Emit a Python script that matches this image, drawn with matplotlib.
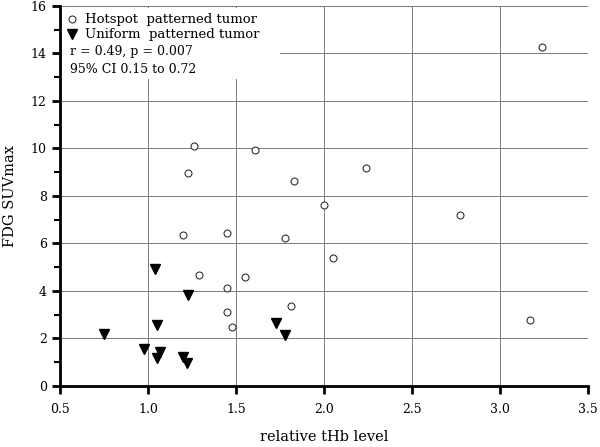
import matplotlib
matplotlib.use("Agg")
import matplotlib.pyplot as plt
from matplotlib.lines import Line2D
from matplotlib.patches import Rectangle
from matplotlib.ticker import MultipleLocator

# ── Data ───────────────────────────────────────────────────────────────────
hotspot_x = [3.24, 2.77, 3.17, 1.26, 1.61, 1.23, 1.83, 2.24, 2.00, 1.20,
             1.45, 1.78, 2.05, 1.29, 1.55, 1.45, 1.45, 1.81, 1.48]
hotspot_y = [14.26, 7.20, 2.78, 10.09, 9.95, 8.97, 8.63, 9.16, 7.61, 6.36,
             6.43, 6.25, 5.38, 4.67, 4.58, 4.13, 3.12, 3.37, 2.48]

uniform_x = [1.04, 1.23, 1.05, 0.75, 1.73, 1.78, 0.98, 1.07, 1.05, 1.20, 1.22]
uniform_y = [4.91, 3.85, 2.57, 2.20, 2.64, 2.15, 1.56, 1.42, 1.19, 1.23, 0.98]

x_ticks = [0.5, 1.0, 1.5, 2.0, 2.5, 3.0, 3.5]
y_ticks = [0, 2, 4, 6, 8, 10, 12, 14, 16]

legend_labels = ["Hotspot  patterned tumor", "Uniform  patterned tumor"]
stats_lines = ["r = 0.49, p = 0.007", "95% CI 0.15 to 0.72"]

# ── Style ──────────────────────────────────────────────────────────────────
plt.rcParams.update({
    "font.family": "DejaVu Serif",
    "font.size": 9,
    "text.color": "black",
})

fig = plt.figure(figsize=(6.0, 4.47), dpi=100)
ax = fig.add_axes([0.1, 0.1365, 0.88, 0.8501])

ax.set_xlim(0.5, 3.5)
ax.set_ylim(0, 16)
ax.set_xticks(x_ticks)
ax.set_xticklabels([f"{t:.1f}" for t in x_ticks])
ax.set_yticks(y_ticks)
ax.yaxis.set_minor_locator(MultipleLocator(1))

ax.grid(True, which="major", color="#7a7a7a", linewidth=0.7)
ax.set_axisbelow(True)

for side in ("top", "right"):
    ax.spines[side].set_visible(False)
for side in ("left", "bottom"):
    ax.spines[side].set_linewidth(2)

ax.tick_params(which="major", direction="out", length=6, width=2, labelsize=9)
ax.tick_params(which="minor", direction="out", length=4, width=1.5)
ax.tick_params(axis="x", pad=6)

# white block behind the legend text (hides the grid there)
ax.add_patch(Rectangle((0.004, 0.808), 0.413, 0.187, transform=ax.transAxes,
                       facecolor="white", edgecolor="none", zorder=2))

ax.plot(hotspot_x, hotspot_y, linestyle="none", marker="o", markersize=5,
        markerfacecolor="white", markeredgecolor="#333", markeredgewidth=0.8,
        zorder=3)
ax.plot(uniform_x, uniform_y, linestyle="none", marker="v", markersize=7.5,
        color="black", zorder=3)

handles = [
    Line2D([], [], linestyle="none", marker="o", markersize=5,
           markerfacecolor="white", markeredgecolor="#333", markeredgewidth=0.8),
    Line2D([], [], linestyle="none", marker="v", markersize=7.5, color="black"),
]
leg = ax.legend(handles, legend_labels, loc="upper left",
                bbox_to_anchor=(-0.005, 1.005), frameon=False, fontsize=9.5,
                handlelength=0.8, handletextpad=0.6, borderaxespad=0.3,
                labelspacing=0.15)
leg.set_zorder(4)

ax.text(0.018, 0.879, stats_lines[0], transform=ax.transAxes, fontsize=9,
        va="center", ha="left", zorder=4)
ax.text(0.018, 0.834, stats_lines[1], transform=ax.transAxes, fontsize=9,
        va="center", ha="left", zorder=4)

ax.set_xlabel("relative tHb level", fontsize=10.5, labelpad=10)
ax.set_ylabel("FDG SUVmax", fontsize=10.5, labelpad=10)

fig.savefig("out.png", dpi=100)
